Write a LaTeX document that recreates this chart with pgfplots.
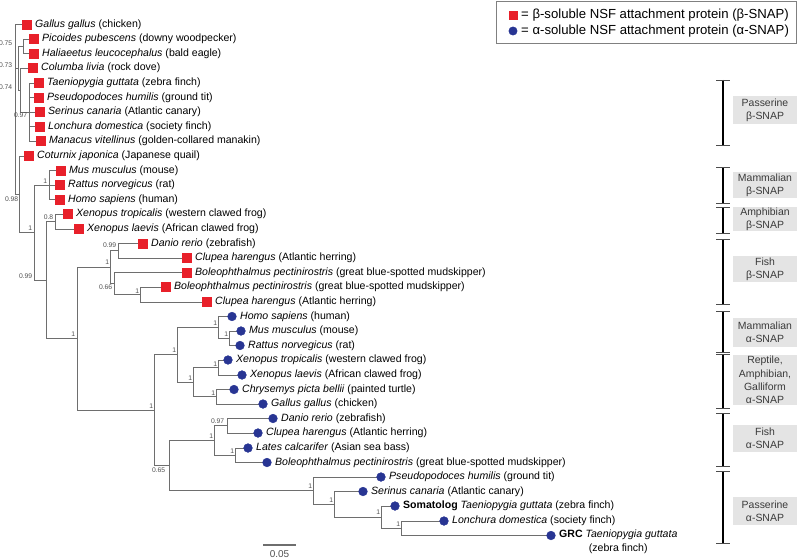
\documentclass[border=0pt]{standalone}
\usepackage{pgfplots}
\pgfplotsset{compat=1.18}
\usepackage{fontspec}
\setmainfont{Liberation Sans}
\definecolor{betared}{HTML}{E8202A}
\definecolor{alphablue}{HTML}{283593}
\definecolor{treegray}{HTML}{6E6E6E}
\definecolor{boxgray}{HTML}{E4E4E4}
\definecolor{boxtext}{HTML}{3A3A3A}
\definecolor{bsgray}{HTML}{505050}
\begin{document}
\begin{tikzpicture}[
  leaf/.style={anchor=west,inner sep=0pt,font=\fontsize{10.6}{12}\selectfont},
  bs/.style={anchor=east,inner sep=0.6pt,text=bsgray,font=\fontsize{6.8}{8}\selectfont},
  grp/.style={align=center,text=boxtext,inner sep=0pt,font=\fontsize{10.5}{13.4}\selectfont}]
\begin{axis}[width=800bp,height=559bp,scale only axis,
  xmin=0,xmax=800,ymin=0,ymax=559,y dir=reverse,hide axis,clip=false]

% ---------- tree branches ----------
\addplot[treegray,line width=0.9pt,mark=none,unbounded coords=jump] table[row sep=\\] {
x y\\
27 24.5\\ 15 24.5\\ 15 194\\ 19 194\\ nan nan\\
15 68\\ 18 68\\ nan nan\\
23 46.25\\ 18 46.25\\ 18 90\\ 20 90\\ nan nan\\
34 39\\ 23 39\\ 23 53.5\\ 34 53.5\\ nan nan\\
33 68\\ 20 68\\ 20 112\\ 29 112\\ nan nan\\
39 83\\ 29 83\\ 29 141\\ 41 141\\ nan nan\\
29 97.5\\ 39 97.5\\ nan nan\\
29 112\\ 40 112\\ nan nan\\
29 126.5\\ 40 126.5\\ nan nan\\
29 156\\ 19 156\\ 19 232.5\\ 34 232.5\\ nan nan\\
49 185\\ 34 185\\ 34 280\\ 46 280\\ nan nan\\
61 170.5\\ 49 170.5\\ 49 199.5\\ 60 199.5\\ nan nan\\
49 185\\ 60 185\\ nan nan\\
55 221.5\\ 46 221.5\\ 46 338.6\\ 77 338.6\\ nan nan\\
68 214\\ 55 214\\ 55 229\\ 79 229\\ nan nan\\
110 267\\ 77 267\\ 77 410.1\\ 154 410.1\\ nan nan\\
118 250.75\\ 110 250.75\\ 110 283.5\\ 114 283.5\\ nan nan\\
143 243.5\\ 118 243.5\\ 118 258\\ 187 258\\ nan nan\\
187 272.5\\ 114 272.5\\ 114 294.5\\ 140 294.5\\ nan nan\\
166 287\\ 140 287\\ 140 302\\ 207 302\\ nan nan\\
177 354.7\\ 154 354.7\\ 154 465.6\\ 169 465.6\\ nan nan\\
218 327.4\\ 177 327.4\\ 177 382\\ 193 382\\ nan nan\\
232 316.5\\ 218 316.5\\ 218 338.25\\ 229 338.25\\ nan nan\\
241 331\\ 229 331\\ 229 345.5\\ 240 345.5\\ nan nan\\
218 367.5\\ 193 367.5\\ 193 396.75\\ 216 396.75\\ nan nan\\
228 360\\ 218 360\\ 218 375\\ 242 375\\ nan nan\\
234 389.5\\ 216 389.5\\ 216 404\\ 263 404\\ nan nan\\
214 440.5\\ 169 440.5\\ 169 490.6\\ 313 490.6\\ nan nan\\
227 425.75\\ 214 425.75\\ 214 455.25\\ 235 455.25\\ nan nan\\
273 418.5\\ 227 418.5\\ 227 433\\ 258 433\\ nan nan\\
248 448\\ 235 448\\ 235 462.5\\ 267 462.5\\ nan nan\\
381 477\\ 313 477\\ 313 504.25\\ 334 504.25\\ nan nan\\
363 491.5\\ 334 491.5\\ 334 517\\ 381 517\\ nan nan\\
395 506\\ 381 506\\ 381 528.25\\ 401 528.25\\ nan nan\\
444 521\\ 401 521\\ 401 535.5\\ 551 535.5\\
};

% ---------- leaf markers ----------
\addplot[only marks,mark=square*,mark size=4.5pt,color=betared] coordinates {
(27,24.5)(34,39)(34,53.5)(33,68)(39,83)(39,97.5)(40,112)(40,126.5)(41,141)(29,156)
(61,170.5)(60,185)(60,199.5)(68,214)(79,229)(143,243.5)(187,258)(187,272.5)(166,287)(207,302)};
\addplot[only marks,mark=*,mark size=4.4pt,color=alphablue] coordinates {
(232,316.5)(241,331)(240,345.5)(228,360)(242,375)(234,389.5)(263,404)(273,418.5)(258,433)
(248,448)(267,462.5)(381,477)(363,491.5)(395,506)(444,521)(551,535.5)};

% ---------- legend ----------
\draw[color=gray,line width=0.9pt] (axis cs:496,1) rectangle (axis cs:796,43);
\addplot[only marks,mark=square*,mark size=4.2pt,color=betared] coordinates {(513,15)};
\addplot[only marks,mark=*,mark size=4.2pt,color=alphablue] coordinates {(513,31)};
\node[anchor=west,inner sep=0pt,font=\fontsize{13.2}{15}\selectfont] at (axis cs:521,15) {= β-soluble NSF attachment protein (β-SNAP)};
\node[anchor=west,inner sep=0pt,font=\fontsize{13.2}{15}\selectfont] at (axis cs:521,31) {= α-soluble NSF attachment protein (α-SNAP)};

% ---------- leaf labels ----------
\node[leaf] at (axis cs:35,24.5) {\textit{Gallus gallus} (chicken)};
\node[leaf] at (axis cs:42,39) {\textit{Picoides pubescens} (downy woodpecker)};
\node[leaf] at (axis cs:42,53.5) {\textit{Haliaeetus leucocephalus} (bald eagle)};
\node[leaf] at (axis cs:41,68) {\textit{Columba livia} (rock dove)};
\node[leaf] at (axis cs:47,83) {\textit{Taeniopygia guttata} (zebra finch)};
\node[leaf] at (axis cs:47,97.5) {\textit{Pseudopodoces humilis} (ground tit)};
\node[leaf] at (axis cs:48,112) {\textit{Serinus canaria} (Atlantic canary)};
\node[leaf] at (axis cs:48,126.5) {\textit{Lonchura domestica} (society finch)};
\node[leaf] at (axis cs:49,141) {\textit{Manacus vitellinus} (golden-collared manakin)};
\node[leaf] at (axis cs:37,156) {\textit{Coturnix japonica} (Japanese quail)};
\node[leaf] at (axis cs:69,170.5) {\textit{Mus musculus} (mouse)};
\node[leaf] at (axis cs:68,185) {\textit{Rattus norvegicus} (rat)};
\node[leaf] at (axis cs:68,199.5) {\textit{Homo sapiens} (human)};
\node[leaf] at (axis cs:76,214) {\textit{Xenopus tropicalis} (western clawed frog)};
\node[leaf] at (axis cs:87,229) {\textit{Xenopus laevis} (African clawed frog)};
\node[leaf] at (axis cs:151,243.5) {\textit{Danio rerio} (zebrafish)};
\node[leaf] at (axis cs:195,258) {\textit{Clupea harengus} (Atlantic herring)};
\node[leaf] at (axis cs:195,272.5) {\textit{Boleophthalmus pectinirostris} (great blue-spotted mudskipper)};
\node[leaf] at (axis cs:174,287) {\textit{Boleophthalmus pectinirostris} (great blue-spotted mudskipper)};
\node[leaf] at (axis cs:215,302) {\textit{Clupea harengus} (Atlantic herring)};
\node[leaf] at (axis cs:240,316.5) {\textit{Homo sapiens} (human)};
\node[leaf] at (axis cs:249,331) {\textit{Mus musculus} (mouse)};
\node[leaf] at (axis cs:248,345.5) {\textit{Rattus norvegicus} (rat)};
\node[leaf] at (axis cs:236,360) {\textit{Xenopus tropicalis} (western clawed frog)};
\node[leaf] at (axis cs:250,375) {\textit{Xenopus laevis} (African clawed frog)};
\node[leaf] at (axis cs:242,389.5) {\textit{Chrysemys picta bellii} (painted turtle)};
\node[leaf] at (axis cs:271,404) {\textit{Gallus gallus} (chicken)};
\node[leaf] at (axis cs:281,418.5) {\textit{Danio rerio} (zebrafish)};
\node[leaf] at (axis cs:266,433) {\textit{Clupea harengus} (Atlantic herring)};
\node[leaf] at (axis cs:256,448) {\textit{Lates calcarifer} (Asian sea bass)};
\node[leaf] at (axis cs:275,462.5) {\textit{Boleophthalmus pectinirostris} (great blue-spotted mudskipper)};
\node[leaf] at (axis cs:389,477) {\textit{Pseudopodoces humilis} (ground tit)};
\node[leaf] at (axis cs:371,491.5) {\textit{Serinus canaria} (Atlantic canary)};
\node[leaf] at (axis cs:403,506) {\textbf{Somatolog}\ \textit{Taeniopygia guttata} (zebra finch)};
\node[leaf] at (axis cs:452,521) {\textit{Lonchura domestica} (society finch)};
\node[leaf,anchor=north west,align=center,font=\fontsize{10.6}{14.5}\selectfont] at (axis cs:559,529.5) {\textbf{GRC} \textit{Taeniopygia guttata}\\(zebra finch)};

% ---------- support values ----------
\node[bs] at (axis cs:13,43) {0.75};
\node[bs] at (axis cs:13,65) {0.73};
\node[bs] at (axis cs:13,87) {0.74};
\node[bs] at (axis cs:28,115.5) {0.97};
\node[bs] at (axis cs:19,199) {0.98};
\node[bs] at (axis cs:33,228.5) {1};
\node[bs] at (axis cs:48,181) {1};
\node[bs] at (axis cs:54,217.5) {0.8};
\node[bs] at (axis cs:33,276) {0.99};
\node[bs] at (axis cs:76,334) {1};
\node[bs] at (axis cs:117,245) {0.99};
\node[bs] at (axis cs:110,262.5) {1};
\node[bs] at (axis cs:113,287) {0.66};
\node[bs] at (axis cs:140,291) {1};
\node[bs] at (axis cs:154,406) {1};
\node[bs] at (axis cs:177,350.5) {1};
\node[bs] at (axis cs:166,470) {0.65};
\node[bs] at (axis cs:218,323.5) {1};
\node[bs] at (axis cs:229,334.5) {1};
\node[bs] at (axis cs:193,378) {1};
\node[bs] at (axis cs:218,364) {1};
\node[bs] at (axis cs:216,393) {1};
\node[bs] at (axis cs:214,436.5) {1};
\node[bs] at (axis cs:225,421.5) {0.97};
\node[bs] at (axis cs:235,451.5) {1};
\node[bs] at (axis cs:313,486) {1};
\node[bs] at (axis cs:334,500) {1};
\node[bs] at (axis cs:381,512.5) {1};
\node[bs] at (axis cs:401,524.5) {1};

% ---------- scale bar ----------
\addplot[treegray,line width=1.2pt,mark=none] coordinates {(263,545)(296,545)};
\node[inner sep=0pt,text=bsgray,font=\fontsize{10}{12}\selectfont] at (axis cs:279.5,554) {0.05};

% ---------- group boxes ----------
\fill[boxgray] (axis cs:733,96) rectangle (axis cs:797,124);
\fill[boxgray] (axis cs:733,172) rectangle (axis cs:797,198);
\fill[boxgray] (axis cs:733,207) rectangle (axis cs:797,231);
\fill[boxgray] (axis cs:733,256) rectangle (axis cs:797,282);
\fill[boxgray] (axis cs:733,318) rectangle (axis cs:797,347);
\fill[boxgray] (axis cs:733,355) rectangle (axis cs:797,405);
\fill[boxgray] (axis cs:733,425) rectangle (axis cs:797,452);
\fill[boxgray] (axis cs:733,497) rectangle (axis cs:797,525);
\node[grp] at (axis cs:765,110) {Passerine\\β-SNAP};
\node[grp] at (axis cs:765,185) {Mammalian\\β-SNAP};
\node[grp] at (axis cs:765,219) {Amphibian\\β-SNAP};
\node[grp] at (axis cs:765,269) {Fish\\β-SNAP};
\node[grp] at (axis cs:765,332.5) {Mammalian\\α-SNAP};
\node[grp] at (axis cs:765,380) {Reptile,\\Amphibian,\\Galliform\\α-SNAP};
\node[grp] at (axis cs:765,438.5) {Fish\\α-SNAP};
\node[grp] at (axis cs:765,511) {Passerine\\α-SNAP};

% ---------- group bars ----------
\addplot[black,line width=3pt,mark=none,unbounded coords=jump] table[row sep=\\] {
x y\\
723 80\\ 723 145\\ nan nan\\
723 167\\ 723 203\\ nan nan\\
723 207\\ 723 233\\ nan nan\\
723 239\\ 723 304\\ nan nan\\
723 311\\ 723 352\\ nan nan\\
723 354\\ 723 408\\ nan nan\\
723 413\\ 723 466\\ nan nan\\
723 471\\ 723 543\\
};
\addplot[color=black!70,line width=0.8pt,mark=none,unbounded coords=jump] table[row sep=\\] {
x y\\
716 80\\ 730 80\\ nan nan\\ 716 145\\ 730 145\\ nan nan\\
716 167\\ 730 167\\ nan nan\\ 716 203\\ 730 203\\ nan nan\\
716 207\\ 730 207\\ nan nan\\ 716 233\\ 730 233\\ nan nan\\
716 239\\ 730 239\\ nan nan\\ 716 304\\ 730 304\\ nan nan\\
716 311\\ 730 311\\ nan nan\\ 716 352\\ 730 352\\ nan nan\\
716 354\\ 730 354\\ nan nan\\ 716 408\\ 730 408\\ nan nan\\
716 413\\ 730 413\\ nan nan\\ 716 466\\ 730 466\\ nan nan\\
716 471\\ 730 471\\ nan nan\\ 716 543\\ 730 543\\
};
\end{axis}
\pgfresetboundingbox
\useasboundingbox (0,0) rectangle (800bp,559bp);
\end{tikzpicture}
\end{document}
